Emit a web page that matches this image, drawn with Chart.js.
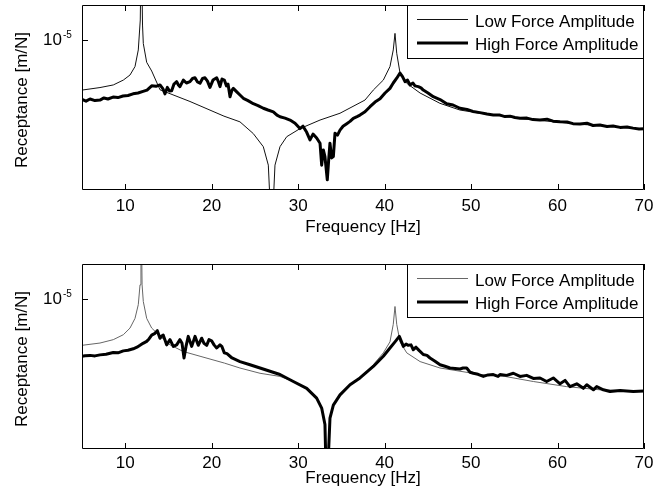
<!DOCTYPE html>
<html>
<head>
<meta charset="utf-8">
<script src="https://cdn.jsdelivr.net/npm/chart.js@4.4.0/dist/chart.umd.min.js"></script>
<style>
  body { margin: 0; background: #fff; }
  .panel { position: absolute; left: 0; width: 653px; height: 250px; }
</style>
</head>
<body>
<div class="panel" style="top:0"><canvas id="topChart" width="653" height="250"></canvas></div>
<div class="panel" style="top:250px"><canvas id="bottomChart" width="653" height="250"></canvas></div>
<script>
// receptance values are in units of 1e-6 m/N
var UNIT = 1e-6;
var seriesNames = ["Low Force Amplitude", "High Force Amplitude"];
var xTicks = [10, 20, 30, 40, 50, 60, 70];
var yTicks = [1e-5];

// upper panel
var topLowFreq = [5, 7.08, 8.62, 9.78, 10.55, 11.13, 11.51, 11.74, 11.86, 12.0, 12.09, 12.48, 13.06, 14.02, 17.49, 21.42,
  23.27, 24.81, 25.97, 26.55, 26.94, 27.32, 27.9, 28.68, 30.22, 32.53, 34.84, 37.73, 38.69, 39.85, 40.62, 41.0, 41.2,
  41.4, 41.78, 42.56, 44.1, 46.4, 48.7, 51.0, 53.35, 55.66, 57.97, 60.29, 62.6, 64.9, 67.2, 70];
var topLow = [5.83, 5.99, 6.16, 6.49, 6.85, 7.5, 8.96, 12.35, 30, 11.7, 9.6, 7.85, 7.15, 5.85, 5.16, 4.41,
  4.15, 3.66, 3.18, 2.61, 1.2, 2.61, 3.18, 3.54, 3.86, 4.23, 4.55, 5.24, 5.83, 6.49, 7.5, 8.96, 10.7,
  8.65, 7.0, 6.27, 5.65, 5.06, 4.71, 4.55, 4.43, 4.3, 4.21, 4.13, 4.04, 3.99, 3.93, 3.83];

var topHighFreq = [5.0, 5.46, 5.93, 6.5, 7.08, 7.54, 8.0, 8.59, 9.16, 9.74, 10.32, 10.9, 11.48, 12.06, 12.52, 13.06,
  13.56, 14.02, 14.37, 14.6, 14.87, 15.12, 15.37, 15.64, 15.95, 16.15, 16.33, 16.72, 17.08, 17.49, 17.78, 18.07,
  18.36, 18.65, 18.94, 19.23, 19.51, 19.8, 20.15, 20.58, 20.79, 20.96, 21.19, 21.46, 21.71, 21.89, 22.12, 22.35,
  22.5, 22.9, 23.27, 23.66, 24.2, 24.81, 25.36, 25.97, 26.51, 27.13, 27.55, 27.9, 28.48, 29.06, 29.64, 30.21,
  30.56, 30.99, 31.37, 31.72, 32.14, 32.53, 32.72, 32.91, 33.1, 33.37, 33.53, 33.68, 33.87, 34.07, 34.26, 34.55,
  34.84, 35.19, 35.62, 36.0, 36.38, 36.81, 37.15, 37.73, 38.31, 38.89, 39.47, 40.05, 40.62, 41.0, 41.4, 41.78,
  42.07, 42.36, 42.65, 42.94, 43.28, 43.51, 43.9, 44.21, 44.47, 45.02, 45.63, 46.41, 47.18, 47.91, 48.72, 49.53,
  50.22, 51.03, 51.84, 52.57, 53.35, 53.92, 54.5, 55.08, 55.66, 56.47, 57.16, 57.97, 58.78, 59.48, 60.29, 61.1,
  61.79, 62.6, 63.4, 64.1, 64.9, 65.72, 66.42, 67.23, 68.04, 68.73, 69.43, 70];
var topHigh = [5.28, 5.18, 5.3, 5.21, 5.24, 5.36, 5.3, 5.41, 5.38, 5.47, 5.5, 5.6, 5.65, 5.75, 5.83, 6.1,
  6.07, 6.16, 5.9, 5.6, 6.0, 5.77, 5.79, 6.22, 6.38, 6.16, 6.05, 6.49, 6.29, 6.38, 6.6, 6.65,
  6.36, 6.27, 6.6, 6.65, 6.42, 6.0, 6.49, 6.65, 6.36, 6.05, 6.56, 6.49, 6.1, 6.22, 5.43, 5.83,
  5.94, 5.72, 5.53, 5.34, 5.21, 5.04, 4.94, 4.8, 4.71, 4.62, 4.46, 4.38, 4.32, 4.23, 4.09, 3.86,
  3.96, 3.71, 3.42, 3.64, 3.49, 3.3, 2.61, 3.07, 2.86, 2.23, 2.76, 3.3, 2.82, 2.86, 3.67, 3.6,
  3.8, 3.96, 4.07, 4.17, 4.31, 4.39, 4.46, 4.62, 4.88, 5.13, 5.31, 5.65, 5.94, 6.29, 6.62, 7.0,
  6.74, 6.38, 6.49, 6.16, 6.29, 6.1, 6.05, 5.97, 5.83, 5.65, 5.43, 5.27, 5.04, 4.97, 4.8, 4.74,
  4.64, 4.58, 4.51, 4.46, 4.46, 4.39, 4.41, 4.35, 4.31, 4.32, 4.25, 4.23, 4.27, 4.18, 4.15, 4.14,
  4.07, 4.05, 4.09, 3.99, 4.01, 3.95, 3.97, 3.91, 3.93, 3.88, 3.84, 3.85];

// lower panel
var botLowFreq = [5, 7.08, 8.62, 9.78, 10.55, 11.13, 11.51, 11.71, 11.82, 11.95, 12.09, 12.48, 13.06, 14.02, 15.18,
  16.72, 18.65, 21.46, 23.27, 25.59, 27.9, 29.44, 30.99, 32.14, 32.72, 33.1, 33.3, 33.68, 34.07, 34.84, 36.0,
  37.15, 37.93, 38.69, 39.85, 40.62, 41.0, 41.2, 41.4, 41.78, 42.56, 44.1, 46.41, 48.72, 51.03, 53.92, 57.2,
  61.06, 64.91, 70];
var botLow = [6.07, 6.22, 6.45, 6.8, 7.3, 8.1, 9.38, 11.6, 30, 11.6, 9.7, 8.1, 7.3, 6.7, 6.1,
  5.68, 5.4, 5.02, 4.76, 4.5, 4.35, 4.12, 3.83, 3.45, 3.1, 2.6, 1.2, 2.78, 3.2, 3.57, 3.98,
  4.3, 4.6, 4.93, 5.6, 6.3, 7.6, 9.2, 7.6, 6.3, 5.6, 5.1, 4.76, 4.6, 4.44, 4.35, 4.12,
  3.9, 3.77, 3.72];

var botHighFreq = [5.0, 5.35, 5.93, 6.5, 7.08, 7.78, 8.62, 9.16, 9.78, 10.32, 10.93, 11.36, 11.71, 12.06, 12.48,
  12.75, 13.06, 13.44, 13.71, 14.02, 14.22, 14.4, 14.79, 15.18, 15.56, 15.95, 16.33, 16.57, 16.8, 17.03, 17.29,
  17.69, 18.07, 18.45, 18.84, 19.11, 19.42, 19.69, 19.99, 20.27, 20.58, 20.96, 21.19, 21.46, 21.77, 22.35, 23.27,
  24.43, 25.59, 26.74, 27.9, 29.44, 30.99, 32.14, 32.72, 33.1, 33.3, 33.68, 34.07, 34.84, 36.0, 37.15, 38.69,
  39.85, 40.62, 41.2, 41.7, 42.17, 42.48, 42.74, 43.05, 43.32, 43.63, 43.98, 44.47, 44.9, 45.25, 45.83, 46.41,
  46.98, 47.56, 48.14, 48.72, 49.07, 49.49, 49.88, 50.26, 50.8, 51.42, 51.96, 52.57, 53.12, 53.35, 54.12, 54.89,
  55.66, 56.43, 57.2, 57.97, 58.74, 59.51, 60.29, 60.87, 61.44, 62.22, 62.99, 63.38, 64.15, 64.53, 65.3, 66.07,
  67.23, 68.76, 70];
var botHigh = [5.4, 5.43, 5.45, 5.42, 5.48, 5.52, 5.62, 5.6, 5.72, 5.76, 5.85, 5.95, 6.07, 6.2, 6.33,
  6.5, 6.77, 6.9, 7.1, 6.55, 6.7, 6.77, 6.1, 6.45, 6.0, 6.1, 6.45, 6.2, 5.3, 6.0, 6.68,
  6.0, 6.68, 6.07, 6.55, 6.2, 6.07, 6.45, 6.37, 6.1, 5.9, 6.1, 5.98, 5.6, 5.55, 5.3, 5.1,
  4.93, 4.76, 4.6, 4.44, 4.12, 3.83, 3.45, 3.1, 2.6, 1.2, 2.78, 3.2, 3.57, 3.98, 4.28, 4.84,
  5.4, 5.9, 6.3, 6.68, 6.0, 6.15, 6.07, 6.1, 5.79, 5.95, 5.75, 5.5, 5.45, 5.3, 5.12, 4.93,
  4.85, 4.76, 4.74, 4.71, 4.76, 4.76, 4.55, 4.5, 4.45, 4.35, 4.42, 4.44, 4.35, 4.44, 4.4, 4.5,
  4.35, 4.4, 4.26, 4.28, 4.12, 4.28, 4.02, 4.17, 3.9, 4.02, 3.83, 3.98, 3.77, 3.9, 3.77, 3.7,
  3.74, 3.7, 3.72];

var FONT = '"Liberation Sans", Arial, sans-serif';

function points(freq, vals) {
  return freq.map(function (f, i) { return { x: f, y: vals[i] * UNIT }; });
}

// MATLAB-style box, inward ticks, labels and boxed legend
var framePlugin = {
  id: 'frame',
  afterDatasetsDraw: function (chart, args, opts) {
    var ctx = chart.ctx, a = chart.chartArea;
    var xs = chart.scales.x, ys = chart.scales.y;
    var L = Math.round(a.left), R = Math.round(a.right), T = Math.round(a.top), B = Math.round(a.bottom);
    ctx.save();
    ctx.strokeStyle = '#000';
    ctx.fillStyle = '#000';
    ctx.lineWidth = 1;
    ctx.beginPath();
    ctx.rect(L + 0.5, T + 0.5, R - L - 1, B - T - 1);
    xTicks.forEach(function (t) {
      var px = Math.round(xs.getPixelForValue(t)) + 0.5;
      ctx.moveTo(px, B); ctx.lineTo(px, B - 6);
      ctx.moveTo(px, T); ctx.lineTo(px, T + 6);
    });
    yTicks.forEach(function (t) {
      var py = Math.round(ys.getPixelForValue(t)) + 0.5;
      ctx.moveTo(L, py); ctx.lineTo(L + 6, py);
      ctx.moveTo(R, py); ctx.lineTo(R - 6, py);
    });
    ctx.stroke();

    // tick labels
    ctx.font = '17px ' + FONT;
    ctx.textAlign = 'center';
    ctx.textBaseline = 'alphabetic';
    xTicks.forEach(function (t) {
      ctx.fillText(String(t), xs.getPixelForValue(t), opts.tickBase);
    });
    yTicks.forEach(function (t) {
      var py = ys.getPixelForValue(t);
      ctx.textAlign = 'right';
      ctx.font = '17px ' + FONT;
      ctx.fillText('10', 62, py + 5);
      ctx.textAlign = 'left';
      ctx.font = '10px ' + FONT;
      ctx.fillText('-' + Math.round(-Math.log10(t)), 63, py - 1.5);
    });

    // axis titles
    ctx.font = '17px ' + FONT;
    ctx.textAlign = 'center';
    ctx.fillText('Frequency [Hz]', (L + R) / 2, opts.titleBase);
    ctx.save();
    ctx.translate(27, (T + B) / 2 + 2.5);
    ctx.rotate(-Math.PI / 2);
    ctx.fillText('Receptance [m/N]', 0, 0);
    ctx.restore();

    // legend
    var bx = 407, bw = R - bx, bh = 54;
    ctx.fillStyle = '#fff';
    ctx.fillRect(bx, T, bw, bh);
    ctx.strokeStyle = '#000';
    ctx.lineWidth = 1;
    ctx.strokeRect(bx + 0.5, T + 0.5, bw - 1, bh - 1);
    ctx.textAlign = 'left';
    chart.data.datasets.forEach(function (ds, i) {
      var ry = T + 14.5 + i * 23.5;
      ctx.strokeStyle = ds.borderColor;
      ctx.lineWidth = ds.borderWidth;
      ctx.beginPath();
      ctx.moveTo(417, ry);
      ctx.lineTo(468, ry);
      ctx.stroke();
      ctx.fillStyle = '#000';
      ctx.fillText(ds.label, 475, ry + 7);
    });
    ctx.restore();
  }
};

function makePanel(id, lowF, lowV, highF, highV, lowColor, pad, tickBase, titleBase) {
  return new Chart(document.getElementById(id), {
    type: 'line',
    data: {
      datasets: [{
        label: seriesNames[0],
        data: points(lowF, lowV),
        borderColor: lowColor,
        borderWidth: 1,
        pointRadius: 0,
        tension: 0,
        clip: 0,
        order: 1
      }, {
        label: seriesNames[1],
        data: points(highF, highV),
        borderColor: '#000',
        borderWidth: 3,
        borderJoinStyle: 'round',
        borderCapStyle: 'round',
        pointRadius: 0,
        tension: 0,
        clip: 0,
        order: 0
      }]
    },
    options: {
      responsive: false,
      devicePixelRatio: 1,
      animation: false,
      layout: { padding: pad },
      scales: {
        x: { type: 'linear', min: 5, max: 70, display: false },
        y: { type: 'logarithmic', min: 2.0 * UNIT, max: 14.5 * UNIT, display: false }
      },
      plugins: {
        legend: { display: false },
        tooltip: { enabled: false },
        frame: { tickBase: tickBase, titleBase: titleBase }
      }
    },
    plugins: [framePlugin]
  });
}

makePanel('topChart', topLowFreq, topLow, topHighFreq, topHigh, '#111',
  { left: 82, right: 9, top: 5, bottom: 60 }, 211, 232);
makePanel('bottomChart', botLowFreq, botLow, botHighFreq, botHigh, '#666',
  { left: 82, right: 9, top: 14, bottom: 51 }, 218, 233);
</script>
</body>
</html>
